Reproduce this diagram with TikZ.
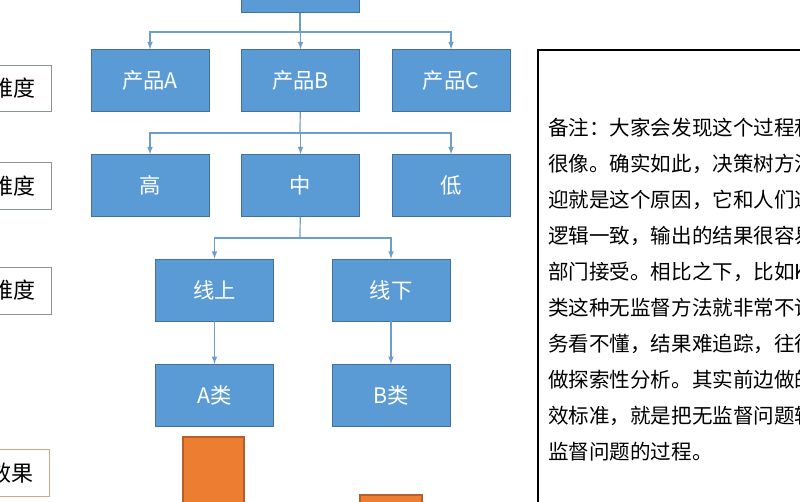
\documentclass[tikz,border=0pt]{standalone}
\usepackage{fontspec}
\setmainfont{Noto Sans CJK SC}
\usetikzlibrary{positioning}
\definecolor{boxblue}{HTML}{5B9BD5}
\definecolor{boxedge}{HTML}{41719C}
\definecolor{linkblue}{HTML}{6C9DCB}
\definecolor{barorange}{HTML}{ED7D31}
\definecolor{baredge}{HTML}{B5602A}
\definecolor{tagedge}{HTML}{8A968A}
\definecolor{tagtan}{HTML}{D9A47E}
\tikzset{
  dim/.style={draw=boxedge, fill=boxblue, text=white, minimum width=88.5pt, minimum height=46.5pt, inner sep=0pt, font=\fontsize{16}{18}\selectfont},
  tag/.style={draw=tagedge, fill=white, anchor=east, minimum height=35pt, inner xsep=12.5pt, font=\fontsize{16.5}{18}\selectfont},
  link/.style={linkblue, line width=0.9pt},
  arr/.style={link, -latex},
}
\begin{document}
\begin{tikzpicture}[x=0.75pt,y=-0.75pt]
    \useasboundingbox (0,0) rectangle (800,502);
    \clip (0,0) rectangle (800,502);
    \node[dim] (root) at (300,-18.5) {};
    \node[dim] (pa) at (150,80.5) {产品A};
    \node[dim, right=24pt of pa] (pb) {产品B};
    \node[dim, right=24pt of pb] (pc) {产品C};
    \node[dim] (gao) at (150,185.5) {高};
    \node[dim, right=24pt of gao] (zhong) {中};
    \node[dim, right=24pt of zhong] (di) {低};
    \node[dim] (xs) at (214.5,290) {线上};
    \node[dim] (xx) at (391,290) {线下};
    \node[dim, below=32pt of xs] (ca) {A类};
    \node[dim, below=32pt of xx] (cb) {B类};
    \coordinate (bus1) at (300,32);
    \coordinate (bus2) at (300,133);
    \coordinate (bus3) at (300,238);
    \draw[link] (root) -- (bus1);
    \foreach \t in {pa,pb,pc} \draw[arr] (bus1) -| (\t);
    \draw[link] (pb) -- (bus2);
    \foreach \t in {gao,zhong,di} \draw[arr] (bus2) -| (\t);
    \draw[link] (zhong) -- (bus3);
    \foreach \t in {xs,xx} \draw[arr] (bus3) -| (\t);
    \draw[arr] (xs) -- (ca);
    \draw[arr] (xx) -- (cb);
    \filldraw[fill=barorange, draw=baredge, line width=0.8pt] (183,437) rectangle (244,520);
    \filldraw[fill=barorange, draw=baredge, line width=0.8pt] (360,495) rectangle (422,520);
    \node[tag, minimum height=34.5pt] (t1) at (52,88) {产品维度};
    \node[tag] (t2) at (52,186) {价格维度};
    \node[tag] (t3) at (52,290.5) {渠道维度};
    \node[tag, draw=tagtan, inner xsep=12.5pt] (t4) at (50,473) {营销效果};
    \draw[line width=0.8pt] (538,50) rectangle (850,540);
    \foreach \txt [count=\i from 0] in {备注：大家会发现这个过程和决策树,很像。确实如此，决策树方法受欢,迎就是这个原因，它和人们通常的,逻辑一致，输出的结果很容易被业务,部门接受。相比之下，比如K-means聚,类这种无监督方法就非常不讨喜，业,务看不懂，结果难追踪，往往只能,做探索性分析。其实前边做的建立有,效标准，就是把无监督问题转化为有,监督问题的过程。}
      \node[anchor=west, inner sep=0pt, font=\fontsize{15.4}{18}\selectfont] (line\i) at (548,128+36*\i) {\txt};
\end{tikzpicture}
\end{document}
